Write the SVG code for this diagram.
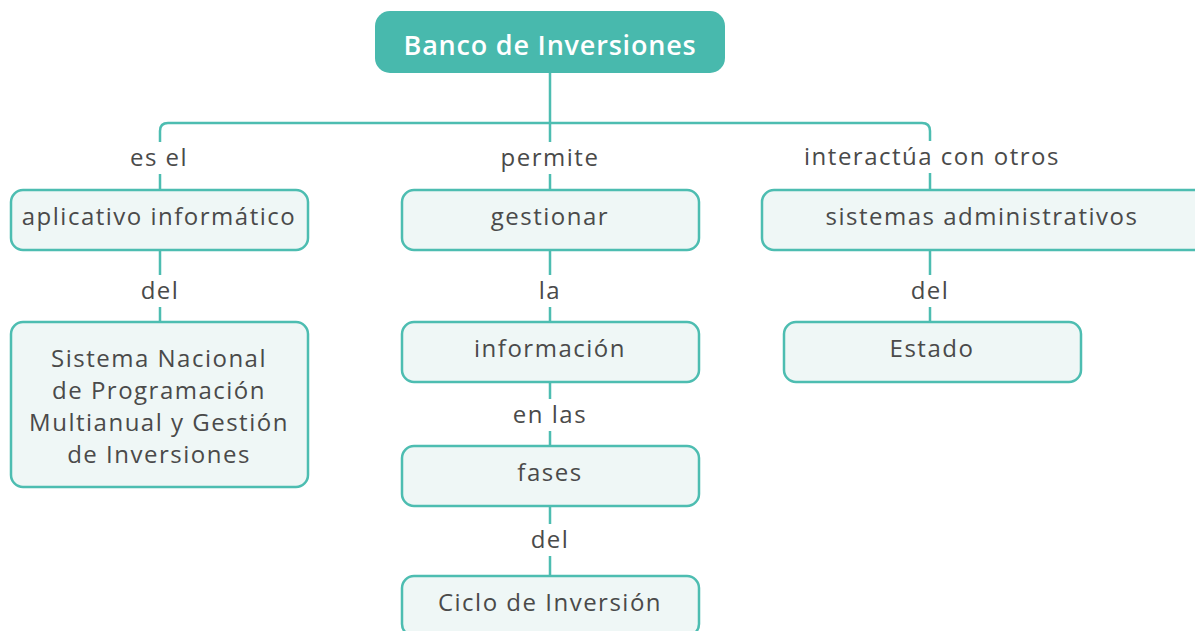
<svg xmlns="http://www.w3.org/2000/svg" width="1195" height="631" viewBox="0 0 1195 631">
<style>
.n{fill:#eff7f6;stroke:#4dbdb1;stroke-width:2.5}
.t{font-family:"Open Sans",sans-serif;font-size:24px;letter-spacing:1.5px;fill:#4a4a4a;text-anchor:middle}
.c{fill:none;stroke:#4dbdb1;stroke-width:2.5}
.bg{fill:#ffffff}
</style>
<rect width="1195" height="631" fill="#ffffff"/>
<g id="connectors">
<path class="c" d="M550 73 V123 M160 190 V131 Q160 123 168 123 H922 Q930 123 930 131 V190 M550 123 V190"/>
<path class="c" d="M160 250 V322 M550 250 V322 M550 382 V446 M550 506 V576 M930 250 V322"/>
<rect class="bg" x="120" y="142" width="78" height="32"/>
<text class="t" x="159" y="166">es el</text>
<rect class="bg" x="494" y="142" width="112" height="32"/>
<text class="t" x="550" y="166">permite</text>
<rect class="bg" x="798" y="141" width="268" height="32"/>
<text class="t" x="932" y="165">interactúa con otros</text>
<rect class="bg" x="132" y="275" width="56" height="32"/>
<text class="t" x="160" y="299">del</text>
<rect class="bg" x="533" y="275" width="34" height="32"/>
<text class="t" x="550" y="299">la</text>
<rect class="bg" x="506" y="399" width="88" height="32"/>
<text class="t" x="550" y="423">en las</text>
<rect class="bg" x="522" y="524" width="56" height="32"/>
<text class="t" x="550" y="548">del</text>
<rect class="bg" x="902" y="275" width="56" height="32"/>
<text class="t" x="930" y="299">del</text>
</g>
<g id="root">
<rect x="375" y="11" width="350" height="62" rx="15" fill="#48b9ad"/>
<text class="t" x="550" y="55" style="fill:#ffffff;font-size:27px;font-weight:600;letter-spacing:0.8px">Banco de Inversiones</text>
</g>
<g id="n-aplicativo">
<rect class="n" x="11" y="190" width="297" height="60" rx="12"/>
<text class="t" x="159" y="225">aplicativo informático</text>
</g>
<g id="n-gestionar">
<rect class="n" x="402" y="190" width="297" height="60" rx="12"/>
<text class="t" x="550" y="225">gestionar</text>
</g>
<g id="n-sistemas">
<rect class="n" x="762" y="190" width="445" height="60" rx="12"/>
<text class="t" x="982" y="225">sistemas administrativos</text>
</g>
<g id="n-snpmgi">
<rect class="n" x="11" y="322" width="297" height="165" rx="12"/>
<text class="t" x="159" y="367">Sistema Nacional</text>
<text class="t" x="159" y="399">de Programación</text>
<text class="t" x="159" y="431">Multianual y Gestión</text>
<text class="t" x="159" y="463">de Inversiones</text>
</g>
<g id="n-informacion">
<rect class="n" x="402" y="322" width="297" height="60" rx="12"/>
<text class="t" x="550" y="357">información</text>
</g>
<g id="n-estado">
<rect class="n" x="784" y="322" width="297" height="60" rx="12"/>
<text class="t" x="932" y="357">Estado</text>
</g>
<g id="n-fases">
<rect class="n" x="402" y="446" width="297" height="60" rx="12"/>
<text class="t" x="550" y="481">fases</text>
</g>
<g id="n-ciclo">
<rect class="n" x="402" y="576" width="297" height="60" rx="12"/>
<text class="t" x="550" y="611">Ciclo de Inversión</text>
</g>
</svg>
